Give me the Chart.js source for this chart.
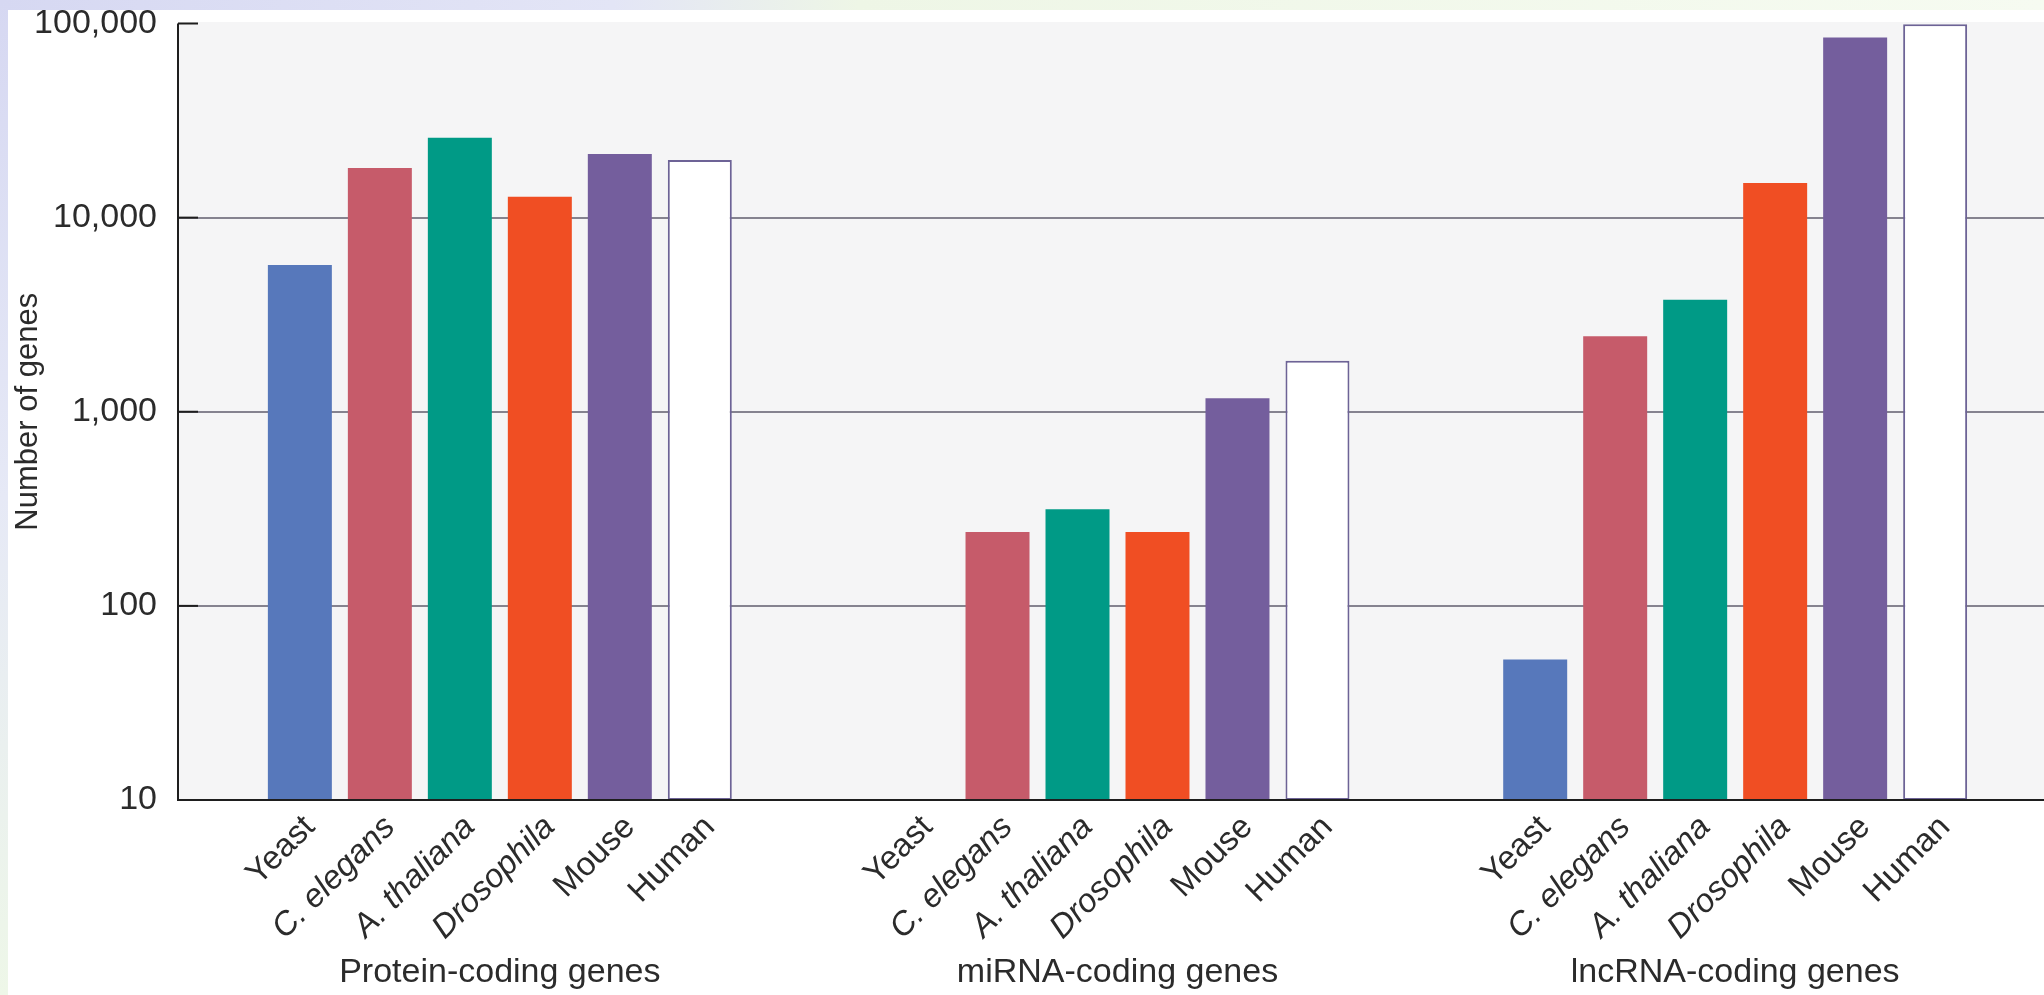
<!DOCTYPE html>
<html>
<head>
<meta charset="utf-8">
<title>Number of genes by organism</title>
<script src="https://cdn.jsdelivr.net/npm/chart.js@4/dist/chart.umd.min.js"></script>
<style>
  html, body { margin: 0; padding: 0; background: #ffffff; }
  #wrap { width: 2044px; height: 995px; }
  canvas { display: block; }
</style>
</head>
<body>
<div id="wrap"><canvas id="genes" width="2044" height="995"></canvas></div>
<script>
// Gene classes (x groups) and organisms (one bar each per group)
const geneClasses = ['Protein-coding genes', 'miRNA-coding genes', 'lncRNA-coding genes'];
const organisms = ['Yeast', 'C. elegans', 'A. thaliana', 'Drosophila', 'Mouse', 'Human'];

// Gene counts per organism: [protein-coding, miRNA-coding, lncRNA-coding]
const yeast      = [5700, null, 53];
const cElegans   = [18000, 240, 2450];
const aThaliana  = [25800, 315, 3770];
const drosophila = [12800, 240, 15100];
const mouse      = [21300, 1175, 84600];
const human      = [19800, 1830, 99000];

// Decade ticks on the log axis
const yTicks = [10, 100, 1000, 10000, 100000];

const seriesValues = [yeast, cElegans, aThaliana, drosophila, mouse, human];

// Styling
const FONT = '"Liberation Sans", Arial, Helvetica, sans-serif';
const TEXT = '#2b2b2b';
const fills   = ['#5778bb', '#c65b6a', '#009a86', '#f04e23', '#745e9d', '#ffffff'];
const borders = ['#5778bb', '#c65b6a', '#009a86', '#f04e23', '#745e9d', '#6d6396'];
const borderW = [0, 0, 0, 0, 0, 2];
const italicName = [false, true, true, true, false, false];
const AXIS_X = 178;       // y-axis line position
const GRID = '#85838f';

const datasets = organisms.map((name, i) => ({
  label: name,
  data: seriesValues[i],
  backgroundColor: fills[i],
  borderColor: borders[i],
  borderWidth: borderW[i],
  borderSkipped: false,
  barPercentage: 0.8,
  categoryPercentage: 0.777
}));

// Page backdrop, grey plot panel
const backdrop = {
  id: 'backdrop',
  beforeDraw(chart) {
    const {ctx, width, height, chartArea} = chart;
    ctx.save();
    ctx.fillStyle = '#ffffff';
    ctx.fillRect(0, 0, width, height);
    const top = ctx.createLinearGradient(0, 0, width, 0);
    top.addColorStop(0, '#d6d8f2');
    top.addColorStop(0.3, '#e3e5f6');
    top.addColorStop(0.42, '#eef6e6');
    top.addColorStop(1, '#f6fbf1');
    ctx.fillStyle = top;
    ctx.fillRect(0, 0, width, 10);
    const left = ctx.createLinearGradient(0, 0, 0, height);
    left.addColorStop(0, '#d6d8f2');
    left.addColorStop(0.5, '#e6e9f6');
    left.addColorStop(1, '#eef7e8');
    ctx.fillStyle = left;
    ctx.fillRect(0, 0, 8, height);
    ctx.fillStyle = '#f5f5f6';
    ctx.fillRect(AXIS_X, chartArea.top - 1.5, width - AXIS_X, chartArea.bottom - chartArea.top + 1.5);
    ctx.restore();
  }
};

// Black axis lines, decade tick stubs and rotated organism names
const axesAndNames = {
  id: 'axesAndNames',
  afterDatasetsDraw(chart) {
    const {ctx, chartArea, scales} = chart;
    const y = scales.y;
    ctx.save();
    ctx.strokeStyle = '#1e1e1e';
    ctx.lineWidth = 2;
    ctx.beginPath();
    ctx.moveTo(AXIS_X, y.getPixelForValue(100000));
    ctx.lineTo(AXIS_X, chartArea.bottom);
    ctx.lineTo(chart.width, chartArea.bottom);
    ctx.stroke();
    yTicks.forEach(v => {
      const py = y.getPixelForValue(v);
      ctx.beginPath();
      ctx.moveTo(AXIS_X, py);
      ctx.lineTo(AXIS_X + 20, py);
      ctx.stroke();
    });

    ctx.fillStyle = TEXT;
    ctx.textAlign = 'right';
    ctx.textBaseline = 'middle';
    chart.data.datasets.forEach((ds, i) => {
      const meta = chart.getDatasetMeta(i);
      ctx.font = (italicName[i] ? 'italic ' : '') + '33px ' + FONT;
      meta.data.forEach((bar) => {
        const px = bar.x;
        if (!isFinite(px)) return;
        ctx.save();
        ctx.translate(px + 10, chartArea.bottom + 22);
        ctx.rotate(-Math.PI / 4);
        ctx.fillText(ds.label, 0, 0);
        ctx.restore();
      });
    });
    ctx.restore();
  }
};

new Chart(document.getElementById('genes'), {
  type: 'bar',
  data: { labels: geneClasses, datasets },
  options: {
    responsive: false,
    animation: false,
    devicePixelRatio: 1,
    layout: { padding: { top: 23.5, right: 0, bottom: 0, left: 0 } },
    plugins: { legend: { display: false }, tooltip: { enabled: false } },
    scales: {
      x: {
        type: 'category',
        offset: true,
        grid: { display: false, drawTicks: false },
        border: { display: false },
        ticks: {
          color: TEXT,
          font: { family: FONT, size: 34 },
          padding: 152,
          maxRotation: 0,
          autoSkip: false
        },
        afterFit(scale) {
          scale.height = 195;
          scale.paddingLeft = 0;
          scale.paddingRight = 0;
        }
      },
      y: {
        type: 'logarithmic',
        min: 10,
        max: 100000,
        afterBuildTicks(scale) {
          scale.ticks = yTicks.map(v => ({ value: v, major: true }));
        },
        afterFit(scale) {
          scale.width = 191;
          scale.paddingTop = 0;
          scale.paddingBottom = 0;
        },
        border: { display: false },
        grid: {
          drawTicks: true,
          tickLength: 13,
          lineWidth: 2,
          color: (c) => (c.tick && (c.tick.value === 10 || c.tick.value === 100000)) ? 'rgba(0,0,0,0)' : GRID,
          tickColor: (c) => (c.tick && (c.tick.value === 10 || c.tick.value === 100000)) ? 'rgba(0,0,0,0)' : GRID
        },
        ticks: {
          color: TEXT,
          font: { family: FONT, size: 34 },
          padding: 21,
          callback: (v) => Number(v).toLocaleString('en-US')
        },
        title: {
          display: true,
          text: 'Number of genes',
          color: TEXT,
          font: { family: FONT, size: 31 },
          padding: { top: 10, bottom: 0 }
        }
      }
    }
  },
  plugins: [backdrop, axesAndNames]
});
</script>
</body>
</html>
